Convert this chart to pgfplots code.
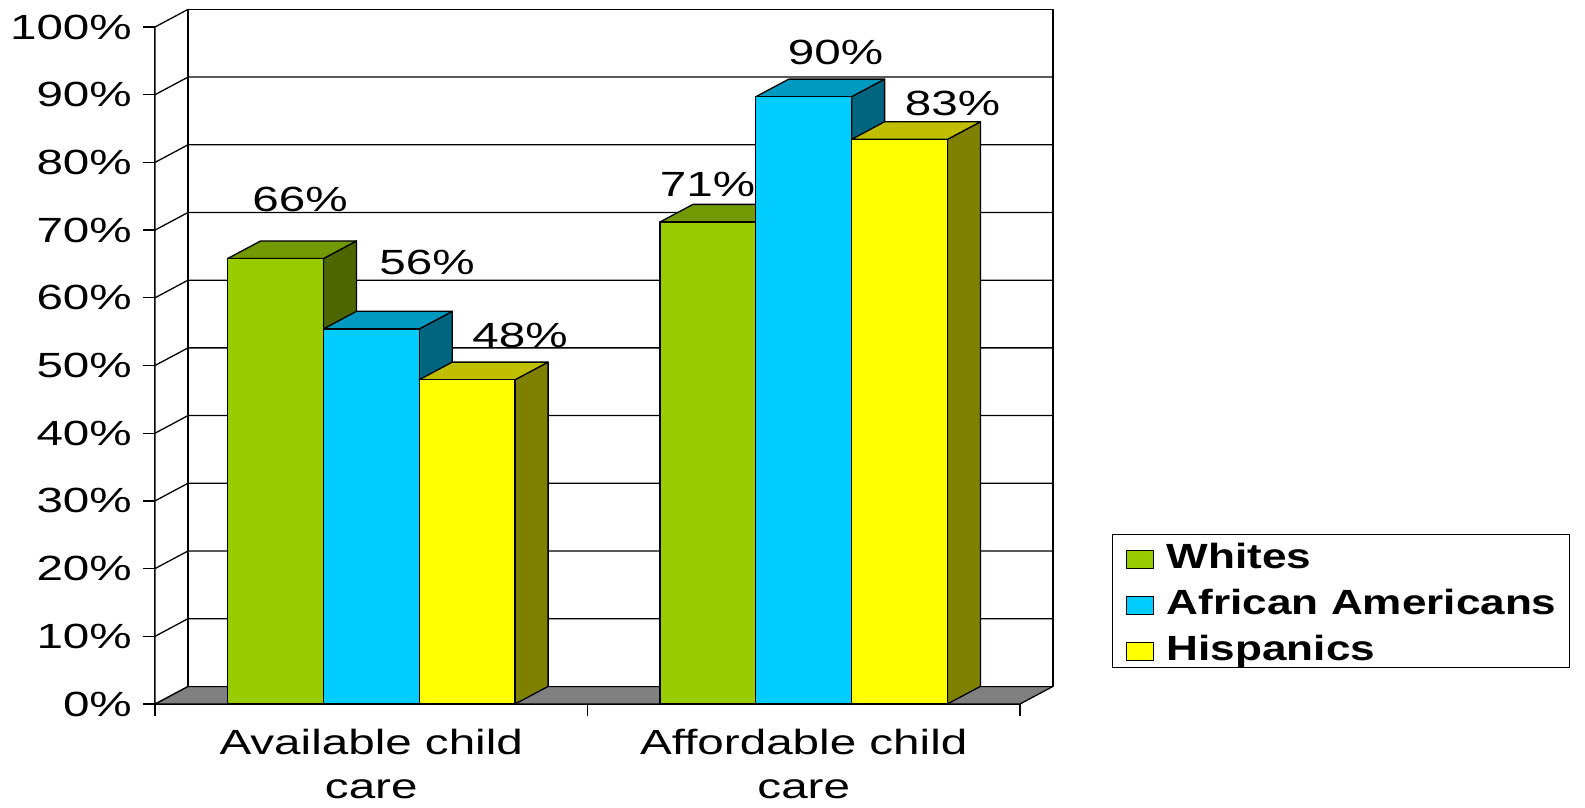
\documentclass[border=0pt]{standalone}
\usepackage{fontspec}
\setmainfont{Liberation Sans}[FakeStretch=1.36]
\newfontfamily\legfont{Liberation Sans}[FakeStretch=1.26]
\usepackage{pgfplots}
\pgfplotsset{compat=1.18}

\definecolor{wF}{HTML}{99CC00}
\definecolor{wT}{HTML}{739900}
\definecolor{wS}{HTML}{4D6600}
\definecolor{aF}{HTML}{00CCFF}
\definecolor{aT}{HTML}{0099C0}
\definecolor{aS}{HTML}{006680}
\definecolor{hF}{HTML}{FFFF00}
\definecolor{hT}{HTML}{BFBF00}
\definecolor{hS}{HTML}{808000}
\definecolor{floorgray}{HTML}{808080}

% 3-D bar: #1 = left edge (x units), #2 = value (%), #3 front, #4 top, #5 side colour
\newcommand\tdbar[5]{%
 \pgfmathsetmacro\xa{#1}%
 \pgfmathsetmacro\xb{#1+95.8}%
 \pgfmathsetmacro\xc{#1+95.8+33}%
 \pgfmathsetmacro\xd{#1+33}%
 \pgfmathsetmacro\vt{#2+2.6}%
 \edef\tdbartmp{%
  \noexpand\addplot[forget plot,draw=black,line width=1.3pt,line join=round,fill=#5] coordinates {(\xb,0) (\xb,#2) (\xc,\vt) (\xc,2.6)} -- cycle;%
  \noexpand\addplot[forget plot,draw=black,line width=1.3pt,line join=round,fill=#4] coordinates {(\xa,#2) (\xb,#2) (\xc,\vt) (\xd,\vt)} -- cycle;%
  \noexpand\addplot[forget plot,draw=black,line width=1.3pt,line join=round,fill=#3] coordinates {(\xa,0) (\xa,#2) (\xb,#2) (\xb,0)} -- cycle;%
 }\tdbartmp}

\begin{document}
\begin{tikzpicture}
\begin{axis}[
  x=1pt, y=6.77pt,
  xmin=0, xmax=865, ymin=0, ymax=100,
  clip=false,
  axis x line*=bottom, axis y line*=left,
  axis line style={line width=1.3pt, black},
  tick style={line width=1.3pt, black},
  major tick length=12pt,
  tick align=outside,
  xtick={0,432.5,865}, xticklabels={,,},
  ytick={0,10,...,100},
  /pgf/number format/assume math mode=true,
  yticklabel={\pgfmathprintnumber{\tick}\%},
  yticklabel style={font=\fontsize{35}{42}\selectfont, anchor=east, inner sep=0pt, xshift=-11pt},
  legend image code/.code={\draw[#1,line width=1.2pt,draw=black] (0pt,0.5pt) rectangle (27pt,18.5pt);},
  legend style={at={(1.1064,0.2511)}, anchor=north west, draw=black, line width=1.3pt, fill=white,
    inner xsep=13pt, inner ysep=4pt, row sep=13pt, column sep=13pt,
    nodes={inner sep=0pt, text height=30pt, text depth=3pt, anchor=base west,
      font=\legfont\bfseries\fontsize{35}{42}\selectfont}},
  legend cell align=left,
]
% floor
\addplot[forget plot, fill=floorgray, draw=black, line width=1.3pt, line join=round]
  coordinates {(0,0) (865,0) (898,2.6) (33,2.6)} -- cycle;
% left wall
\addplot[forget plot, fill=white, draw=black, line width=1.3pt, line join=round]
  coordinates {(0,0) (0,100) (33,102.6) (33,2.6)} -- cycle;
% back wall
\addplot[forget plot, fill=white, draw=black, line width=1.3pt, line join=round]
  coordinates {(33,2.6) (898,2.6) (898,102.6) (33,102.6)} -- cycle;
% grid lines
\addplot[forget plot, black, line width=1.3pt] coordinates {(0,10) (33,12.6) (898,12.6)};
\addplot[forget plot, black, line width=1.3pt] coordinates {(0,20) (33,22.6) (898,22.6)};
\addplot[forget plot, black, line width=1.3pt] coordinates {(0,30) (33,32.6) (898,32.6)};
\addplot[forget plot, black, line width=1.3pt] coordinates {(0,40) (33,42.6) (898,42.6)};
\addplot[forget plot, black, line width=1.3pt] coordinates {(0,50) (33,52.6) (898,52.6)};
\addplot[forget plot, black, line width=1.3pt] coordinates {(0,60) (33,62.6) (898,62.6)};
\addplot[forget plot, black, line width=1.3pt] coordinates {(0,70) (33,72.6) (898,72.6)};
\addplot[forget plot, black, line width=1.3pt] coordinates {(0,80) (33,82.6) (898,82.6)};
\addplot[forget plot, black, line width=1.3pt] coordinates {(0,90) (33,92.6) (898,92.6)};

% bars: Available child care
\tdbar{72.7}{65.8}{wF}{wT}{wS}
\tdbar{168.5}{55.4}{aF}{aT}{aS}
\tdbar{264.3}{47.9}{hF}{hT}{hS}
% bars: Affordable child care
\tdbar{505}{71.2}{wF}{wT}{wS}
\tdbar{600.8}{89.7}{aF}{aT}{aS}
\tdbar{696.6}{83.4}{hF}{hT}{hS}

% value labels
\node[anchor=base, inner sep=0pt, font=\fontsize{35}{42}\selectfont] at (axis cs:145,72.8) {66\%};
\node[anchor=base, inner sep=0pt, font=\fontsize{35}{42}\selectfont] at (axis cs:272,63.5) {56\%};
\node[anchor=base, inner sep=0pt, font=\fontsize{35}{42}\selectfont] at (axis cs:365,52.7) {48\%};
\node[anchor=base, inner sep=0pt, font=\fontsize{35}{42}\selectfont] at (axis cs:552.5,74.9) {71\%};
\node[anchor=base, inner sep=0pt, font=\fontsize{35}{42}\selectfont] at (axis cs:680.5,94.5) {90\%};
\node[anchor=base, inner sep=0pt, font=\fontsize{35}{42}\selectfont] at (axis cs:797.5,87.0) {83\%};

% category labels
\node[anchor=base, inner sep=0pt, font=\fontsize{35}{42}\selectfont] at (axis cs:216.25,-7.43) {Available child};
\node[anchor=base, inner sep=0pt, font=\fontsize{35}{42}\selectfont] at (axis cs:216.25,-13.93) {care};
\node[anchor=base, inner sep=0pt, font=\fontsize{35}{42}\selectfont] at (axis cs:648.75,-7.43) {Affordable child};
\node[anchor=base, inner sep=0pt, font=\fontsize{35}{42}\selectfont] at (axis cs:648.75,-13.93) {care};

\addlegendimage{fill=wF}\addlegendentry{Whites}
\addlegendimage{fill=aF}\addlegendentry{African Americans}
\addlegendimage{fill=hF}\addlegendentry{Hispanics}

\coordinate (O) at (axis cs:0,0);
\end{axis}
\pgfresetboundingbox
\path ([xshift=-155pt,yshift=-104pt]O) rectangle ([xshift=1430pt,yshift=704pt]O);
\end{tikzpicture}
\end{document}
